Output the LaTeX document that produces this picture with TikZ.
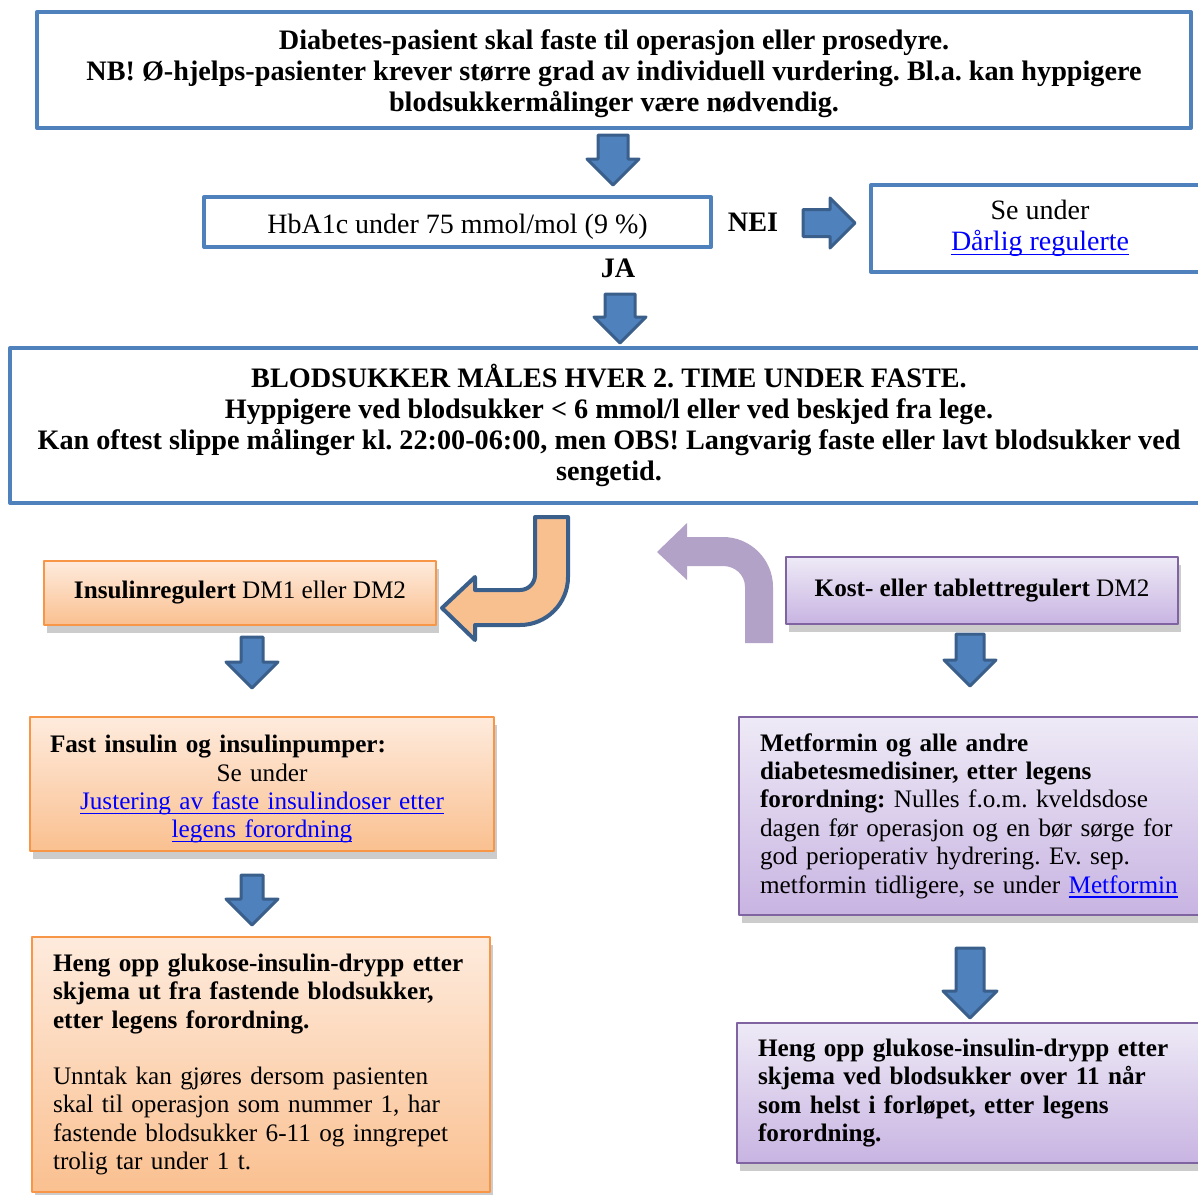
\documentclass[tikz,border=0pt]{standalone}
\usepackage{fontspec}
\setmainfont{Liberation Serif}
\usetikzlibrary{shadows}
\definecolor{boxblue}{HTML}{4F81BD}
\definecolor{arrowedge}{HTML}{3A5F8B}
\definecolor{orangeedge}{HTML}{F79646}
\definecolor{orangetop}{HTML}{FEEBDD}
\definecolor{orangebot}{HTML}{FAC090}
\definecolor{purpleedge}{HTML}{8064A2}
\definecolor{purpletop}{HTML}{EEEAF6}
\definecolor{purplebot}{HTML}{C8B4E2}
\definecolor{purplearrow}{HTML}{B3A2C7}
\definecolor{orangearrow}{HTML}{F9C08F}
\definecolor{linkblue}{HTML}{0000FF}
\newcommand\bigfs{\fontsize{14.1}{15.6}\selectfont}
\newcommand\boxfs{\fontsize{12.6}{14.2}\selectfont}
\newsavebox\linkbox
\newcommand\weblink[1]{\textcolor{linkblue}{\sbox\linkbox{#1}\rlap{\rule[-2.2pt]{\wd\linkbox}{0.6pt}}\usebox\linkbox}}
\newcommand\blockdown[5]{\draw[bluearrow] (#1-#4,#2) -- (#1+#4,#2) -- (#1+#4,#3-#5) -- (#1+#5,#3-#5) -- (#1,#3) -- (#1-#5,#3-#5) -- (#1-#4,#3-#5) -- cycle;}
\newcommand\blockright[5]{\draw[bluearrow] (#2,#1-#4) -- (#3-#5,#1-#4) -- (#3-#5,#1-#5) -- (#3,#1) -- (#3-#5,#1+#5) -- (#3-#5,#1+#4) -- (#2,#1+#4) -- cycle;}

\begin{document}
\frenchspacing
\begin{tikzpicture}[x=0.5pt,y=-0.5pt,line join=round,
  bluebox/.style={draw=boxblue,line width=2pt,fill=white,inner sep=0pt,align=center},
  orangebox/.style={draw=orangeedge,line width=1pt,top color=orangetop,bottom color=orangebot,inner ysep=0pt,
    drop shadow={shadow xshift=1.5pt,shadow yshift=-4pt,fill=black!40}},
  purplebox/.style={draw=purpleedge,line width=1pt,top color=purpletop,bottom color=purplebot,inner ysep=0pt,
    drop shadow={shadow xshift=1.5pt,shadow yshift=-4pt,fill=black!40}},
  bluearrow/.style={fill=boxblue,draw=arrowedge,line width=1.5pt}]
\useasboundingbox (0,0) rectangle (1198,1194);
\coordinate (F) at (614,70);
\coordinate (H) at (457.5,222);
\coordinate (S) at (1040,228.5);
\coordinate (B) at (609,425.5);
\coordinate (I1) at (240,593);
\coordinate (I2) at (262,784);
\coordinate (I3) at (261,1064.5);
\coordinate (K1) at (982,590.5);
\coordinate (K2) at (979.5,816);
\coordinate (K3) at (978.5,1093);
\node[bluebox,minimum width=577pt,minimum height=58pt,font=\bigfs\bfseries] (faste) at (F)
  {\rule{0pt}{13.5pt}Diabetes-pasient skal faste til operasjon eller prosedyre.\\NB! Ø-hjelps-pasienter krever større grad av individuell vurdering. Bl.a. kan hyppigere\\blodsukkermålinger være nødvendig.};
\node[bluebox,minimum width=253.5pt,minimum height=25pt,text height=14pt,font=\fontsize{14}{16}\selectfont] (hba1c) at (H) {HbA1c under 75 mmol/mol (9 \%)};
\node[bluebox,minimum width=169pt,minimum height=43.5pt,font=\fontsize{14}{15.5}\selectfont] (darlig) at (S) {Se under\\\weblink{Dårlig regulerte}};
\node[bluebox,minimum width=599pt,minimum height=77.5pt,font=\bigfs\bfseries] (maling) at (B)
  {BLODSUKKER MÅLES HVER 2. TIME UNDER FASTE.\\Hyppigere ved blodsukker < 6 mmol/l eller ved beskjed fra lege.\\Kan oftest slippe målinger kl. 22:00-06:00, men OBS! Langvarig faste eller lavt blodsukker ved\\sengetid.};
\node[font=\bigfs\bfseries] (nei) at (753,222) {NEI};
\node[font=\bigfs\bfseries] (ja) at (618,268) {JA};
\node[orangebox,minimum width=196pt,minimum height=32pt,font=\boxfs] (insulin) at (I1) {\textbf{Insulinregulert} DM1 eller DM2};
\node[orangebox,minimum width=232pt,minimum height=67pt,inner xsep=10pt,text width=212pt,text height=14pt,align=center,font=\boxfs] (pumper) at (I2)
  {\makebox[\linewidth][l]{\textbf{Fast insulin og insulinpumper:}}\\Se under\\\weblink{Justering av faste insulindoser etter}\\\weblink{legens forordning}};
\node[orangebox,minimum width=229pt,minimum height=127.5pt,inner xsep=10.5pt,text width=208pt,align=left,font=\boxfs] (drypp1) at (I3)
  {\textbf{Heng opp glukose-insulin-drypp etter}\\\textbf{skjema ut fra fastende blodsukker,}\\\textbf{etter legens forordning.}\\[14pt]Unntak kan gjøres dersom pasienten\\skal til operasjon som nummer 1, har\\fastende blodsukker 6-11 og inngrepet\\trolig tar under 1 t.};
\node[purplebox,minimum width=196pt,minimum height=33.5pt,font=\boxfs] (kost) at (K1) {\textbf{Kost- eller tablettregulert} DM2};
\node[purplebox,minimum width=240.5pt,minimum height=99pt,inner xsep=10.5pt,text width=219.5pt,align=left,font=\boxfs] (metformin) at (K2)
  {\textbf{Metformin og alle andre}\\\textbf{diabetesmedisiner, etter legens}\\\textbf{forordning:} Nulles f.o.m. kveldsdose\\dagen før operasjon og en bør sørge for\\god perioperativ hydrering. Ev. sep.\\metformin tidligere, se under \weblink{Metformin}};
\node[purplebox,minimum width=241.5pt,minimum height=70pt,inner xsep=10.5pt,text width=220.5pt,align=left,font=\boxfs\bfseries] (drypp2) at (K3)
  {Heng opp glukose-insulin-drypp etter\\skjema ved blodsukker over 11 når\\som helst i forløpet, etter legens\\forordning.};
\blockdown{613}{135}{185}{15}{26}
\blockright{223}{803}{855}{13.5}{25}
\blockdown{620}{294}{343}{15}{26}
\blockdown{252}{637}{688}{11}{26}
\blockdown{252}{875}{925}{11}{26}
\blockdown{970}{634}{686}{14}{26}
\blockdown{970}{948}{1018}{14}{27}
\draw[fill=orangearrow,draw=arrowedge,line width=2pt] (535,517) -- (568,517) -- (568,577) .. controls (568,603.5) and (546.5,625) .. (520,625) -- (475,625) -- (475,640) -- (442,608) -- (475,577) -- (475,590) -- (520,590) .. controls (528.3,590) and (535,583.3) .. (535,575) -- cycle;
\fill[purplearrow] (745,643) -- (773,643) -- (773,587) .. controls (773,559.4) and (750.6,537) .. (723,537) -- (687,537) -- (687,523) -- (657,552) -- (687,580) -- (687,566) -- (723,566) .. controls (735.1,566) and (745,574.9) .. (745,587) -- cycle;
\end{tikzpicture}
\end{document}
